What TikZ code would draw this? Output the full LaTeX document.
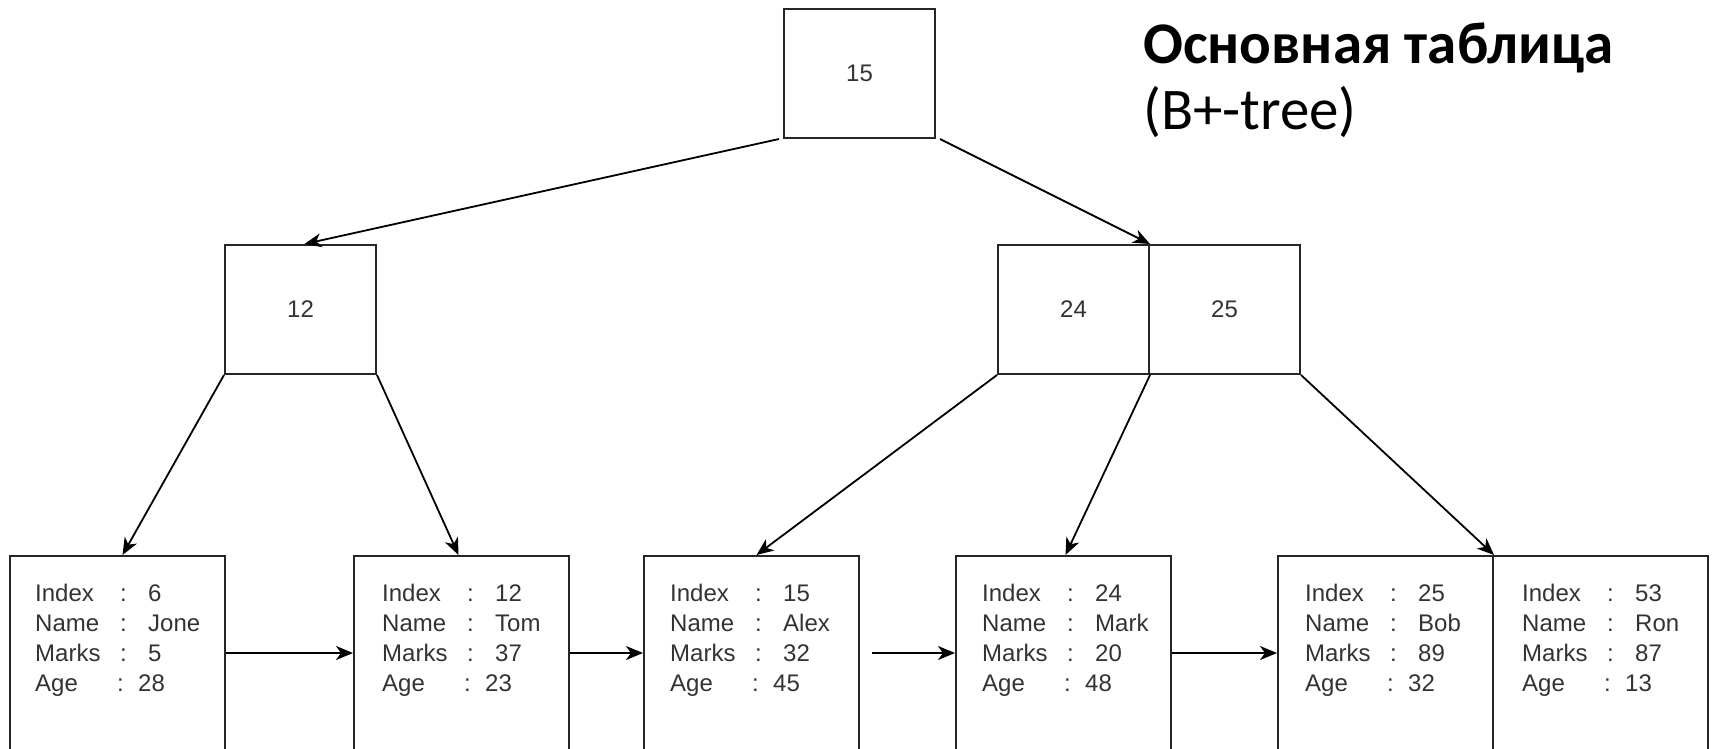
\documentclass[tikz,border=0pt]{standalone}
\usepackage{fontspec}
\setmainfont{Liberation Sans}
\newfontfamily\titlefont{Carlito}
\usetikzlibrary{arrows.meta}

% one record of a leaf page: Index, Name, Marks, Age
\newcommand\leafrecord[4]{%
  \makebox[85pt][l]{Index}\makebox[28pt][l]{:}#1\\
  \makebox[85pt][l]{Name}\makebox[28pt][l]{:}#2\\
  \makebox[85pt][l]{Marks}\makebox[28pt][l]{:}#3\\
  \makebox[82pt][l]{Age}\makebox[21pt][l]{:}#4}

\begin{document}
\begin{tikzpicture}[x=1pt,y=-1pt,
  keybox/.style={draw=black!85, line width=2pt, minimum width=151pt,
    minimum height=129pt, inner sep=0pt, anchor=north west,
    font=\fontsize{24}{29}\selectfont, text=black!80},
  leafbox/.style={draw=black!85, line width=2pt, minimum width=215pt,
    minimum height=194pt, inner sep=0pt, anchor=north west},
  leaftext/.style={anchor=north west, inner sep=0pt, align=left,
    font=\fontsize{24}{30}\selectfont, text=black!80},
  link/.style={draw=black, line width=1.8pt,
    -{Stealth[length=17pt,width=14pt,inset=5pt]}},
]
\useasboundingbox (0,0) rectangle (1712,748);
\fill[white] (0,0) rectangle (1712,748);
\clip (0,0) rectangle (1712,748);

% title
\node[anchor=base west, inner sep=0pt,
  font=\titlefont\bfseries\fontsize{59}{68}\selectfont] (title) at (1143,63) {Основная таблица};
\node[anchor=base west, inner sep=0pt,
  font=\titlefont\fontsize{59}{68}\selectfont] (subtitle) at (1143,129) {(B+-tree)};

% inner pages
\node[keybox] (root) at (783,8) {15};
\node[keybox] (k12) at (224,244) {12};
\node[keybox] (k24) at (997,244) {24};
\node[keybox] (k25) at (1148,244) {25};

% leaf pages
\node[leafbox] (l1) at (9,555) {};
\node[leafbox] (l2) at (353,555) {};
\node[leafbox] (l3) at (643,555) {};
\node[leafbox] (l4) at (955,555) {};
\node[leafbox] (l5) at (1277,555) {};
\node[leafbox] (l6) at (1492,555) {};

\node[leaftext] (r1) at (35,584) {\leafrecord{6}{Jone}{5}{28}};
\node[leaftext] (r2) at (382,584) {\leafrecord{12}{Tom}{37}{23}};
\node[leaftext] (r3) at (670,584) {\leafrecord{15}{Alex}{32}{45}};
\node[leaftext] (r4) at (982,584) {\leafrecord{24}{Mark}{20}{48}};
\node[leaftext] (r5) at (1305,584) {\leafrecord{25}{Bob}{89}{32}};
\node[leaftext] (r6) at (1522,584) {\leafrecord{53}{Ron}{87}{13}};

% tree links
\draw[link] ([xshift=-4pt]root.south west) -- ([xshift=4pt]k12.north);
\draw[link] ([xshift=4pt]root.south east) -- (k24.north east);
\draw[link] (k12.south west) -- ([xshift=5pt]l1.north);
\draw[link] (k12.south east) -- ([xshift=-3pt]l2.north);
\draw[link] (k24.south west) -- ([xshift=5pt]l3.north);
\draw[link] (k24.south east) -- ([xshift=2pt]l4.north);
\draw[link] (k25.south east) -- (l5.north east);

% sibling links between leaves
\draw[link] (l1.east) -- (l2.west);
\draw[link] (l2.east) -- (l3.west);
\draw[link] ([xshift=12pt]l3.east) -- (l4.west);
\draw[link] (l4.east) -- (l5.west);
\end{tikzpicture}
\end{document}
